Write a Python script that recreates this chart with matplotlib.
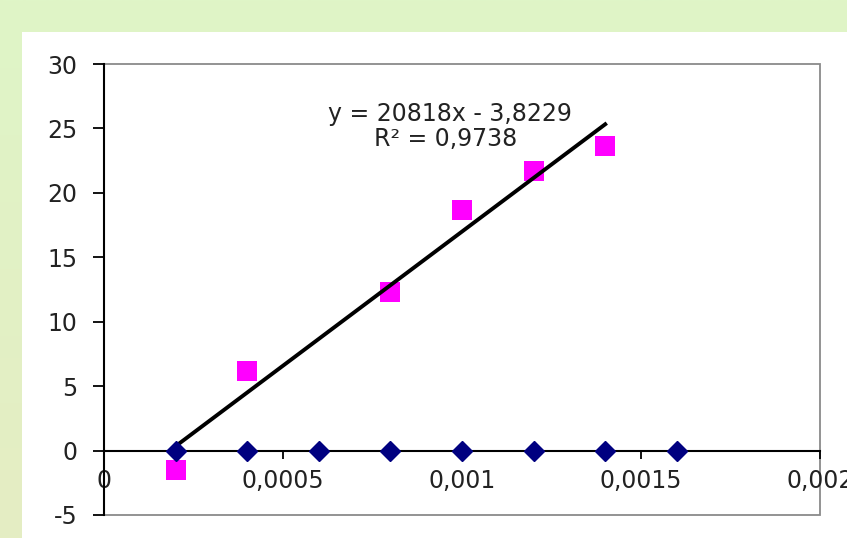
import numpy as np
import matplotlib
matplotlib.use("Agg")
import matplotlib.pyplot as plt
from matplotlib.patches import Rectangle

# ---- data ----
x_diamonds = [0.0002, 0.0004, 0.0006, 0.0008, 0.0010, 0.0012, 0.0014, 0.0016]
y_diamonds = [0, 0, 0, 0, 0, 0, 0, 0]
x_squares = [0.0002, 0.0004, 0.0008, 0.0010, 0.0012, 0.0014]
y_squares = [-1.5, 6.2, 12.3, 18.7, 21.7, 23.6]
slope = 20818
intercept = -3.8229
trend_x = [0.0002, 0.0014]
eq_text = "y = 20818x - 3,8229"
r2_text = "R² = 0,9738"
x_ticks = [0, 0.0005, 0.001, 0.0015, 0.002]
x_ticklabels = ["0", "0,0005", "0,001", "0,0015", "0,002"]
y_ticks = [-5, 0, 5, 10, 15, 20, 25, 30]
y_ticklabels = ["-5", "0", "5", "10", "15", "20", "25", "30"]

W, H = 847, 538
fig = plt.figure(figsize=(W / 100, H / 100), dpi=100)

# background gradient
bg = fig.add_axes([0, 0, 1, 1], zorder=-10)
top = np.array([0xdf, 0xf5, 0xc7]) / 255
bot = np.array([0xe5, 0xed, 0xc3]) / 255
t = np.linspace(0, 1, 256)[:, None]
grad = (top[None, :] * (1 - t) + bot[None, :] * t)[:, None, :]
bg.imshow(grad, aspect="auto", extent=[0, 1, 0, 1], origin="upper")
bg.add_patch(Rectangle((22 / W, 0), 1 - 22 / W, 1 - 32 / H, facecolor="white", edgecolor="none"))
bg.set_xlim(0, 1)
bg.set_ylim(0, 1)
bg.axis("off")

ax = fig.add_axes([104 / W, 1 - 515 / H, (820 - 104) / W, (515 - 64) / H])
ax.set_facecolor("white")
ax.set_xlim(0, 0.002)
ax.set_ylim(-5, 30)

# outer frame (gray)
ax.add_patch(Rectangle((0, 0), 1, 1, transform=ax.transAxes, facecolor="none",
                       edgecolor="#8a8a8a", lw=1.3, clip_on=False, zorder=1))
for s in ["top", "right"]:
    ax.spines[s].set_visible(False)
ax.spines["left"].set_color("black")
ax.spines["left"].set_linewidth(1.5)
ax.spines["bottom"].set_position(("data", 0))
ax.spines["bottom"].set_color("black")
ax.spines["bottom"].set_linewidth(1.5)

ax.set_xticks(x_ticks)
ax.set_xticklabels(x_ticklabels)
ax.set_yticks(y_ticks)
ax.set_yticklabels(y_ticklabels)
ax.tick_params(axis="x", direction="out", length=6, width=1.3, pad=7,
               labelsize=17, labelcolor="#222222")
ax.tick_params(axis="y", direction="out", length=8, width=1.3, pad=11,
               labelsize=17, labelcolor="#222222")
for lab in ax.get_xticklabels() + ax.get_yticklabels():
    lab.set_family("DejaVu Sans")

tx = np.array(trend_x)
ax.plot(tx, slope * tx + intercept, color="black", lw=2.8, zorder=4, clip_on=False)
ax.plot(x_diamonds, y_diamonds, linestyle="none", marker="D", ms=10.5,
        color="#000080", zorder=5, clip_on=False)
ax.plot(x_squares, y_squares, linestyle="none", marker="s", ms=14,
        color="#ff00ff", markeredgewidth=0, zorder=3, clip_on=False)

ax.text(0.000966, 26.15, eq_text, ha="center", va="center", fontsize=17,
        color="#222222", family="DejaVu Sans")
ax.text(0.000955, 24.2, r2_text, ha="center", va="center", fontsize=17,
        color="#222222", family="DejaVu Sans")

fig.savefig("out.png", dpi=100)
